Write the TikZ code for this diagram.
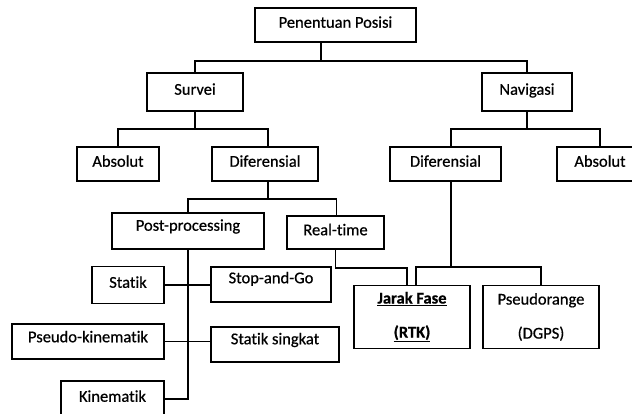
\documentclass[tikz,border=0pt]{standalone}
\usepackage{fontspec}
\setmainfont{Carlito}[Ligatures=NoCommon, FakeBold=0.6]
\begin{document}
\begin{tikzpicture}[x=1pt,y=-1pt,
  boxbase/.style={draw, line width=1.6pt, inner sep=0pt, fill=white},
  box/.style={boxbase, text height=11pt, text depth=5.5pt,
    font=\fontsize{16.5}{20}\selectfont},
  twoline/.style={boxbase, align=center, font=\fontsize{16.5}{34}\selectfont},
  link/.style={line width=1.6pt}]
\useasboundingbox (0,0) rectangle (632,414);
\fill[white] (0,0) rectangle (632,414);
\clip (0,0) rectangle (632,414);

% top level
\node[box, minimum width=161pt, minimum height=34pt] (pos) at (335.5,25) {Penentuan Posisi};
\node[box, minimum width=96pt, minimum height=38pt] (survei) at (195,92) {Survei};
\node[box, minimum width=90pt, minimum height=38pt] (nav) at (527,92) {Navigasi};

% second level
\node[box, minimum width=82pt, minimum height=34pt] (absL) at (118,164) {Absolut};
\node[box, minimum width=106pt, minimum height=34pt] (difL) at (265,164) {Diferensial};
\node[box, minimum width=111pt, minimum height=34pt] (difR) at (445.5,164) {Diferensial};
\node[box, minimum width=86pt, minimum height=34pt] (absR) at (600,164) {Absolut};

% survey methods
\node[box, minimum width=152pt, minimum height=36pt] (post) at (188,231) {\raisebox{3pt}{Post-processing}};
\node[box, minimum width=97pt, minimum height=33pt] (real) at (335.5,232.5) {Real-time};
\node[box, minimum width=72pt, minimum height=37pt] (statik) at (128,285) {Statik};
\node[box, minimum width=120pt, minimum height=35pt] (stop) at (271,284.5) {\raisebox{4pt}{Stop-and-Go}};
\node[box, minimum width=152pt, minimum height=35pt] (pk) at (88,341.5) {\raisebox{2pt}{Pseudo-kinematik}};
\node[box, minimum width=128pt, minimum height=35pt] (ss) at (275,344.5) {\raisebox{3pt}{Statik singkat}};
\node[box, minimum width=103pt, minimum height=36pt] (kin) at (112.5,399) {Kinematik};

% navigation methods
\node[twoline, minimum width=116pt, minimum height=63pt] (jarak) at (412,317)
  {\underline{\textbf{Jarak Fase}}\\\underline{\textbf{(RTK)}}};
\node[twoline, minimum width=116pt, minimum height=63pt] (pseudo) at (541,317)
  {Pseudorange\\(DGPS)};

% connectors
\draw[link] ([xshift=-14.5pt]pos.south) -- ++(0,18) coordinate (j0);
\draw[link] (survei.north) |- (j0) -| (nav.north);

\draw[link] (survei.south) -- ++(0,17) coordinate (j1);
\draw[link] (absL.north) |- (j1) -| ([xshift=3pt]difL.north);

\draw[link] (nav.south) -- ++(0,17) coordinate (j2);
\draw[link] ([xshift=5.5pt]difR.north) |- (j2) -| (absR.north);

\draw[link] ([xshift=3pt]difL.south) -- ++(0,17) coordinate (j3);
\draw[link] (post.north) |- (j3) -| ([xshift=1pt]real.north);

\draw[link] (post.south) |- (kin.east);
\draw[link] (statik.east) -- (statik.east -| stop.west);
\draw[link] (pk.east) -- (pk.east -| ss.west);

\draw[link] (real.south) -- ++(0,18) -| ([xshift=-5pt]jarak.north);
\draw[link] ([xshift=5.5pt]difR.south) -- ++(0,85) coordinate (j5);
\draw[link] ([xshift=4pt]jarak.north) |- (j5) -| (pseudo.north);
\end{tikzpicture}
\end{document}
